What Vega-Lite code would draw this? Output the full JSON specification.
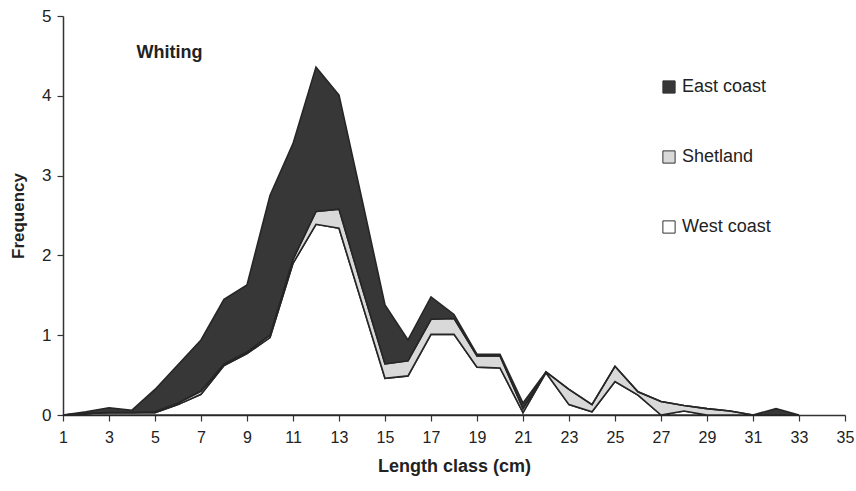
{
  "$schema": "https://vega.github.io/schema/vega-lite/v6.json",
  "autosize": {"type": "none"},
  "width": 782,
  "height": 399,
  "padding": {"left": 63, "top": 16, "right": 11, "bottom": 76},
  "background": "white",
  "config": {
    "view": {"stroke": null},
    "font": "Liberation Sans",
    "axis": {"labelFont": "Liberation Sans", "titleFont": "Liberation Sans", "labelColor": "#222", "titleColor": "#222", "domainColor": "#333", "tickColor": "#333", "grid": false}
  },
  "datasets": {
    "freq": [
      {"length": 1, "series": "West coast", "value": 0}, {"length": 1, "series": "Shetland", "value": 0}, {"length": 1, "series": "East coast", "value": 0},
      {"length": 2, "series": "West coast", "value": 0.02}, {"length": 2, "series": "Shetland", "value": 0}, {"length": 2, "series": "East coast", "value": 0.02},
      {"length": 3, "series": "West coast", "value": 0.03}, {"length": 3, "series": "Shetland", "value": 0}, {"length": 3, "series": "East coast", "value": 0.06},
      {"length": 4, "series": "West coast", "value": 0.03}, {"length": 4, "series": "Shetland", "value": 0}, {"length": 4, "series": "East coast", "value": 0.03},
      {"length": 5, "series": "West coast", "value": 0.03}, {"length": 5, "series": "Shetland", "value": 0.01}, {"length": 5, "series": "East coast", "value": 0.28},
      {"length": 6, "series": "West coast", "value": 0.13}, {"length": 6, "series": "Shetland", "value": 0.02}, {"length": 6, "series": "East coast", "value": 0.48},
      {"length": 7, "series": "West coast", "value": 0.26}, {"length": 7, "series": "Shetland", "value": 0.04}, {"length": 7, "series": "East coast", "value": 0.64},
      {"length": 8, "series": "West coast", "value": 0.62}, {"length": 8, "series": "Shetland", "value": 0.02}, {"length": 8, "series": "East coast", "value": 0.81},
      {"length": 9, "series": "West coast", "value": 0.77}, {"length": 9, "series": "Shetland", "value": 0.02}, {"length": 9, "series": "East coast", "value": 0.84},
      {"length": 10, "series": "West coast", "value": 0.97}, {"length": 10, "series": "Shetland", "value": 0.03}, {"length": 10, "series": "East coast", "value": 1.75},
      {"length": 11, "series": "West coast", "value": 1.9}, {"length": 11, "series": "Shetland", "value": 0.05}, {"length": 11, "series": "East coast", "value": 1.45},
      {"length": 12, "series": "West coast", "value": 2.39}, {"length": 12, "series": "Shetland", "value": 0.16}, {"length": 12, "series": "East coast", "value": 1.81},
      {"length": 13, "series": "West coast", "value": 2.34}, {"length": 13, "series": "Shetland", "value": 0.24}, {"length": 13, "series": "East coast", "value": 1.43},
      {"length": 14, "series": "West coast", "value": 1.4}, {"length": 14, "series": "Shetland", "value": 0.2}, {"length": 14, "series": "East coast", "value": 1.1},
      {"length": 15, "series": "West coast", "value": 0.46}, {"length": 15, "series": "Shetland", "value": 0.18}, {"length": 15, "series": "East coast", "value": 0.74},
      {"length": 16, "series": "West coast", "value": 0.49}, {"length": 16, "series": "Shetland", "value": 0.19}, {"length": 16, "series": "East coast", "value": 0.26},
      {"length": 17, "series": "West coast", "value": 1.01}, {"length": 17, "series": "Shetland", "value": 0.19}, {"length": 17, "series": "East coast", "value": 0.28},
      {"length": 18, "series": "West coast", "value": 1.01}, {"length": 18, "series": "Shetland", "value": 0.2}, {"length": 18, "series": "East coast", "value": 0.05},
      {"length": 19, "series": "West coast", "value": 0.6}, {"length": 19, "series": "Shetland", "value": 0.14}, {"length": 19, "series": "East coast", "value": 0.02},
      {"length": 20, "series": "West coast", "value": 0.59}, {"length": 20, "series": "Shetland", "value": 0.15}, {"length": 20, "series": "East coast", "value": 0.02},
      {"length": 21, "series": "West coast", "value": 0.03}, {"length": 21, "series": "Shetland", "value": 0.05}, {"length": 21, "series": "East coast", "value": 0.07},
      {"length": 22, "series": "West coast", "value": 0.53}, {"length": 22, "series": "Shetland", "value": 0.01}, {"length": 22, "series": "East coast", "value": 0},
      {"length": 23, "series": "West coast", "value": 0.13}, {"length": 23, "series": "Shetland", "value": 0.19}, {"length": 23, "series": "East coast", "value": 0},
      {"length": 24, "series": "West coast", "value": 0.04}, {"length": 24, "series": "Shetland", "value": 0.09}, {"length": 24, "series": "East coast", "value": 0},
      {"length": 25, "series": "West coast", "value": 0.42}, {"length": 25, "series": "Shetland", "value": 0.19}, {"length": 25, "series": "East coast", "value": 0},
      {"length": 26, "series": "West coast", "value": 0.25}, {"length": 26, "series": "Shetland", "value": 0.04}, {"length": 26, "series": "East coast", "value": 0},
      {"length": 27, "series": "West coast", "value": 0}, {"length": 27, "series": "Shetland", "value": 0.17}, {"length": 27, "series": "East coast", "value": 0},
      {"length": 28, "series": "West coast", "value": 0.05}, {"length": 28, "series": "Shetland", "value": 0.07}, {"length": 28, "series": "East coast", "value": 0},
      {"length": 29, "series": "West coast", "value": 0}, {"length": 29, "series": "Shetland", "value": 0.08}, {"length": 29, "series": "East coast", "value": 0},
      {"length": 30, "series": "West coast", "value": 0}, {"length": 30, "series": "Shetland", "value": 0.05}, {"length": 30, "series": "East coast", "value": 0},
      {"length": 31, "series": "West coast", "value": 0}, {"length": 31, "series": "Shetland", "value": 0}, {"length": 31, "series": "East coast", "value": 0},
      {"length": 32, "series": "West coast", "value": 0}, {"length": 32, "series": "Shetland", "value": 0}, {"length": 32, "series": "East coast", "value": 0.08},
      {"length": 33, "series": "West coast", "value": 0}, {"length": 33, "series": "Shetland", "value": 0}, {"length": 33, "series": "East coast", "value": 0}
    ],
    "label": [{"length": 4.2, "value": 4.54, "text": "Whiting"}]
  },
  "layer": [
    {
      "data": {"name": "freq"},
      "mark": {"type": "area", "stroke": "#262626", "strokeWidth": 1.6, "strokeJoin": "miter", "opacity": 1},
      "encoding": {
        "x": {
          "field": "length", "type": "quantitative",
          "scale": {"domain": [1, 35], "nice": false, "zero": false},
          "axis": {
            "values": [1,2,3,4,5,6,7,8,9,10,11,12,13,14,15,16,17,18,19,20,21,22,23,24,25,26,27,28,29,30,31,32,33,34,35],
            "labelExpr": "datum.value % 2 == 1 ? datum.label : ''",
            "title": "Length class (cm)", "titleFontSize": 18, "titleFontWeight": "bold", "titlePadding": 12,
            "labelFontSize": 16, "labelPadding": 8, "tickSize": 6, "domainWidth": 1.5, "tickWidth": 1.2, "labelFlush": false
          }
        },
        "y": {
          "field": "value", "type": "quantitative", "aggregate": "sum", "stack": "zero",
          "scale": {"domain": [0, 5], "nice": false},
          "axis": {
            "values": [0,1,2,3,4,5], "format": "d", "title": "Frequency", "titleFontSize": 17, "titleFontWeight": "bold", "titlePadding": 14,
            "labelFontSize": 17, "labelPadding": 6, "tickSize": 6, "domainWidth": 1.5, "tickWidth": 1.2
          }
        },
        "color": {
          "field": "series", "type": "nominal",
          "scale": {"domain": ["East coast", "Shetland", "West coast"], "range": ["#373737", "#d9d9d9", "#ffffff"]},
          "legend": {
            "orient": "none", "legendX": 597, "legendY": 62, "title": null,
            "symbolType": "square", "symbolSize": 150, "symbolStrokeColor": "#333", "symbolStrokeWidth": 1,
            "labelFontSize": 18, "labelColor": "#222", "rowPadding": 52, "labelOffset": 4
          }
        },
        "order": {"field": "series", "sort": "descending"}
      }
    },
    {
      "data": {"name": "label"},
      "mark": {"type": "text", "align": "left", "baseline": "middle", "fontSize": 18, "fontWeight": "bold", "color": "#222"},
      "encoding": {
        "x": {"field": "length", "type": "quantitative"},
        "y": {"field": "value", "type": "quantitative"},
        "text": {"field": "text"}
      }
    }
  ]
}
